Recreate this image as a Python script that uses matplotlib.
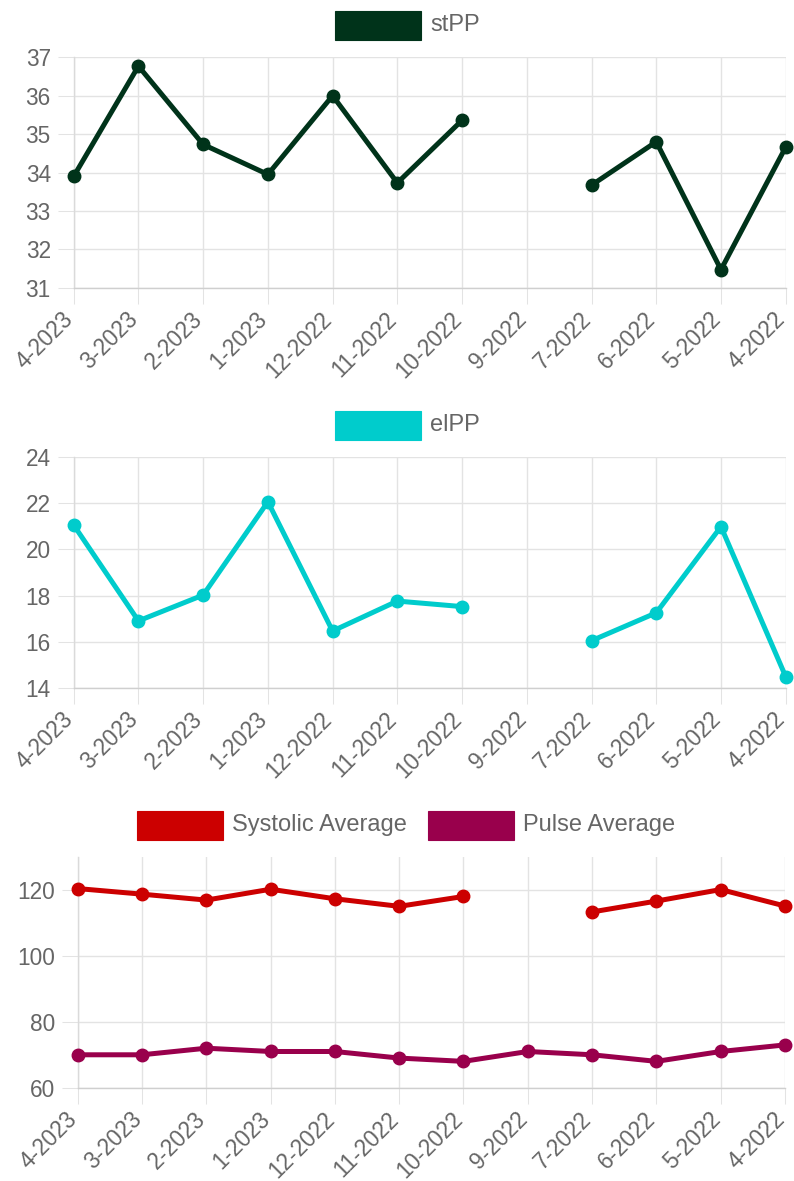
import numpy as np
import matplotlib
matplotlib.use("Agg")
import matplotlib.pyplot as plt
from matplotlib.patches import Rectangle
from matplotlib.transforms import ScaledTranslation

plt.rcParams['font.family'] = ['Liberation Sans', 'DejaVu Sans']

months = ["4-2023", "3-2023", "2-2023", "1-2023", "12-2022", "11-2022",
          "10-2022", "9-2022", "7-2022", "6-2022", "5-2022", "4-2022"]
stpp = [33.9, 36.77, 34.73, 33.95, 36.0, 33.73, 35.36, np.nan, 33.67, 34.8, 31.47, 34.66]
elpp = [21.06, 16.9, 18.02, 22.07, 16.46, 17.76, 17.52, np.nan, 16.04, 17.25, 20.99, 14.48]
systolic = [120.5, 118.8, 117.0, 120.3, 117.4, 115.1, 118.1, np.nan, 113.4, 116.7, 120.2, 115.2]
pulse = [70, 70, 72, 71, 71, 69, 68, 71, 70, 68, 71, 73]

C_STPP = "#00331a"
C_ELPP = "#00cccc"
C_SYS = "#cc0000"
C_PULSE = "#99004c"
GRID = "#e3e3e3"
TXT = "#666666"
FS = 16.3
FS_LEG = 17

W, H = 794, 1181
fig = plt.figure(figsize=(W / 100, H / 100), dpi=100)


def axes_px(left, top, right, bottom):
    return fig.add_axes([left / W, 1 - bottom / H, (right - left) / W, (bottom - top) / H])


def style(ax, ylim, yticks):
    x = np.arange(len(months))
    ax.set_xlim(0, len(months) - 1)
    ax.set_ylim(*ylim)
    ax.set_yticks(yticks)
    ax.set_xticks(x)
    ax.set_xticklabels(months, rotation=45, ha="right", va="center",
                       rotation_mode="anchor")
    ax.grid(True, color=GRID, linewidth=1.0)
    ax.set_axisbelow(True)
    for s in ["top", "right"]:
        ax.spines[s].set_visible(False)
    ax.spines["left"].set_color("#dadada")
    ax.spines["bottom"].set_color("#cfcfcf")
    for s in ["left", "bottom"]:
        ax.spines[s].set_linewidth(1.0)
    ax.tick_params(axis="both", length=11.5, width=0.75, color=GRID, labelcolor=TXT,
                   labelsize=FS)
    ax.tick_params(axis="y", pad=5)
    ax.tick_params(axis="x", pad=11)
    shift = ScaledTranslation(-4 / 100, 3 / 100, fig.dpi_scale_trans)
    for tick in ax.xaxis.get_major_ticks():
        tick.label1.set_transform(tick.label1.get_transform() + shift)


def plot_line(ax, vals, color):
    x = np.arange(len(months))
    ax.plot(x, vals, color=color, linewidth=3.6, marker="o", markersize=9,
            clip_on=False, zorder=3)


def legend_item(x_box, y_box, label, color):
    fig.add_artist(Rectangle((x_box / W, 1 - (y_box + 29) / H), 86 / W, 29 / H,
                             transform=fig.transFigure, facecolor=color,
                             edgecolor=color, linewidth=0.8))
    fig.text((x_box + 95) / W, 1 - (y_box + 14.5) / H, label, color=TXT,
             fontsize=FS_LEG, va="center", ha="left")


# Top chart: stPP
ax1 = axes_px(73.7, 57.3, 785.7, 287.7)
plot_line(ax1, stpp, C_STPP)
style(ax1, (31, 37), [31, 32, 33, 34, 35, 36, 37])
legend_item(335, 10.5, "stPP", C_STPP)

# Middle chart: elPP
ax2 = axes_px(73.7, 457.3, 785.7, 687.7)
plot_line(ax2, elpp, C_ELPP)
style(ax2, (14, 24), [14, 16, 18, 20, 22, 24])
legend_item(335, 410.5, "elPP", C_ELPP)

# Bottom chart: Systolic and Pulse
ax3 = axes_px(77.7, 857.3, 785.0, 1087.7)
plot_line(ax3, systolic, C_SYS)
plot_line(ax3, pulse, C_PULSE)
style(ax3, (60, 130), [60, 80, 100, 120])
legend_item(137, 810.5, "Systolic Average", C_SYS)
legend_item(428, 810.5, "Pulse Average", C_PULSE)

fig.savefig("out.png", dpi=100, facecolor="white")
